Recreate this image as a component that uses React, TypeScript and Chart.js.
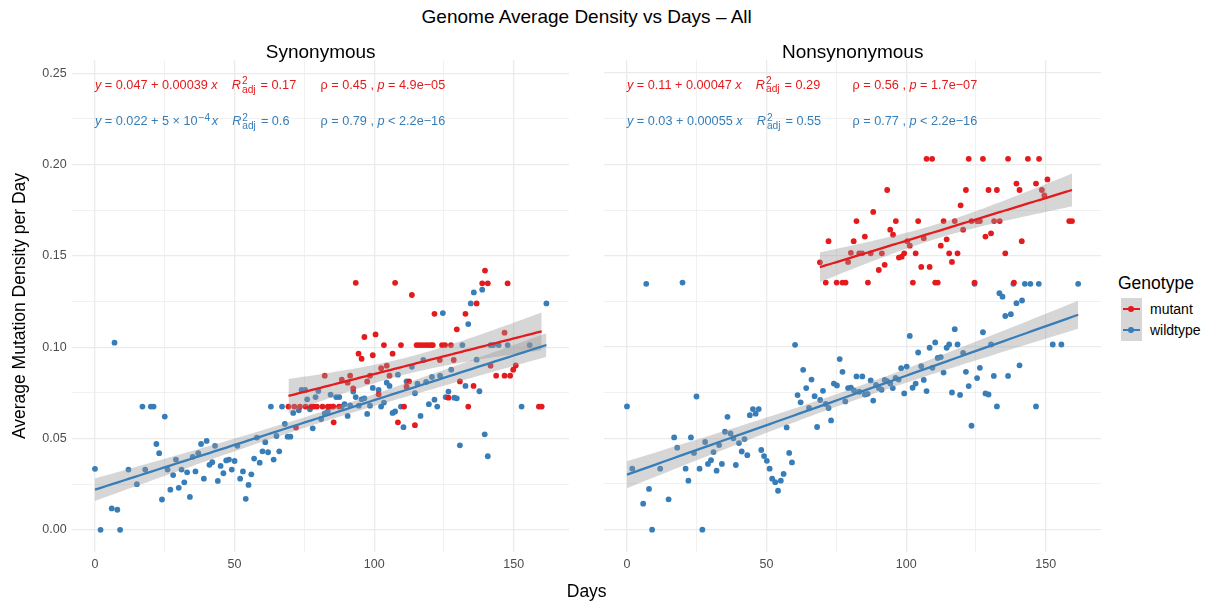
import React, { useEffect, useRef } from "react";
import { Chart, registerables } from "chart.js";

Chart.register(...registerables);

const FONT = '"Liberation Sans", Arial, Helvetica, sans-serif';
const RED = "#E41A1C";
const BLUE = "#377EB8";
const BAND = "rgba(153,153,153,0.4)";
const GRID = "#EBEBEB";
const TICK_COLOR = "#4D4D4D";
const LABEL_SIZE = 12.7;

// ---------------- data: Synonymous ----------------
const synMutantDays = [
  69.3, 71.4, 72, 73.4, 75.4, 77.4, 78.4, 79.5, 81.5, 82.3, 83.4, 84.4, 85.3, 85.5, 87.4, 88.4, 90.5, 91.4,
  92.5, 93.4, 94.4, 95.5, 96.5, 97.5, 98.5, 99.5, 100.5, 101.6, 102.5, 103.5, 104.5, 105.5, 106.6, 107.5,
  108.5, 109.6, 110.7, 111.6, 112.5, 113.5, 114.6, 115.2, 116.2, 117.2, 118.3, 119.3, 120.3, 121.0, 121.6,
  123.5, 124.3, 125.4, 126.6, 127.5, 128.5, 129.6, 130.7, 132.7, 133.7, 135.6, 136.7, 138.7, 139.7, 140.7,
  141.7, 143.7, 146.7, 146.7, 147.8, 148.7, 149.8, 150.7, 159, 160,
];
const synMutantValues = [
  0.0675, 0.0675, 0.056, 0.0675, 0.0675, 0.0675, 0.0675, 0.0675, 0.0675, 0.0844, 0.0675, 0.0675, 0.0675, 0.0589, 0.0675, 0.0822, 0.0806, 0.0844,
  0.0775, 0.1353, 0.0965, 0.0937, 0.1056, 0.0813, 0.0844, 0.0956, 0.107, 0.0742, 0.0885, 0.1012, 0.0899, 0.0844, 0.0965, 0.1353,
  0.0589, 0.1012, 0.0675, 0.0784, 0.0813, 0.1286, 0.0573, 0.1012, 0.1012, 0.1012, 0.1012, 0.1012, 0.1012, 0.1012, 0.1183,
  0.093, 0.1012, 0.1012, 0.0724, 0.1012, 0.093, 0.1098, 0.0813, 0.1183, 0.0675, 0.0788, 0.124, 0.135, 0.142, 0.135,
  0.0899, 0.0844, 0.108, 0.0844, 0.135, 0.0844, 0.0877, 0.09, 0.0675, 0.0675,
];
const synWildtypeDays = [
  0, 2, 6, 7, 8, 9, 12, 15, 17, 18, 20, 21, 22, 23, 24, 25, 26, 27, 28, 29, 30, 31, 32, 33, 34, 35, 36, 37, 38, 39,
  40, 41, 42, 43, 44, 45, 46, 47, 48, 49, 50, 51, 52, 53, 54, 55, 56, 57, 58, 59, 60, 61, 62, 63, 64, 65, 66, 67,
  68, 69, 70, 71, 73, 74, 75.3, 76, 77, 78, 79, 80, 81, 82.3, 83.4, 84.4, 85.3, 86.4, 87.5, 88.4, 89.4, 90.5, 91.4,
  92.5, 93.4, 94.5, 95.5, 96.5, 97.5, 98.5, 99.5, 101.6, 102.5, 103.5, 104.5, 105.5, 106.6, 107.5, 108.5, 109.6,
  110.5, 111.6, 113.5, 114.6, 115.5, 116.6, 117.6, 118.6, 119.6, 120.7, 121.6, 122.6, 123.6, 124.6, 125.6, 126.6,
  127.6, 128.7, 129.6, 130.7, 131.6, 132.7, 133.7, 134.6, 135.7, 136.7, 137.7, 138.7, 139.6, 140.7, 141.7, 142.6,
  144.6, 147.8, 152.8, 155.7, 161.7,
];
const synWildtypeValues = [
  0.0334, 0, 0.0117, 0.1025, 0.011, 0, 0.033, 0.025, 0.0675, 0.033, 0.0675, 0.0675, 0.047, 0.042, 0.0166, 0.062, 0.033, 0.022, 0.03, 0.0385, 0.023, 0.033, 0.026, 0.0315, 0.018, 0.04, 0.032, 0.042, 0.047, 0.028,
  0.0487, 0.0356, 0.037, 0.046, 0.0268, 0.035, 0.031, 0.038, 0.0385, 0.033, 0.0377, 0.046, 0.028, 0.032, 0.017, 0.0246, 0.0304, 0.039, 0.0505, 0.0368, 0.043, 0.048, 0.0425, 0.0675, 0.0385, 0.0514, 0.043, 0.0675,
  0.058, 0.051, 0.051, 0.064, 0.0655, 0.0766, 0.0766, 0.0715, 0.066, 0.0556, 0.0727, 0.076, 0.0607, 0.0637, 0.0648, 0.074, 0.0675, 0.0727, 0.0727, 0.0675, 0.0688, 0.0624, 0.0682,
  0.0757, 0.0727, 0.068, 0.0715, 0.072, 0.0635, 0.068, 0.0777, 0.0766, 0.0675, 0.0697, 0.0806, 0.0788, 0.064, 0.0648, 0.085, 0.0675,
  0.0562, 0.0813, 0.0893, 0.0748, 0.08, 0.0624, 0.093, 0.081, 0.0688, 0.0837, 0.0713, 0.0675, 0.0844, 0.1187, 0.0727, 0.0757,
  0.0877, 0.0724, 0.072, 0.0463, 0.1012, 0.0788, 0.1127, 0.124, 0.13, 0.0932, 0.0759, 0.1315, 0.0523, 0.0403, 0.1012, 0.1012,
  0.1012, 0.1012, 0.0675, 0.1012, 0.124,
];

// ---------------- data: Nonsynonymous ----------------
const nonsynMutantDays = [
  69.1, 71.2, 72.2, 75.1, 77.2, 78.3, 79.2, 80.2, 81.2, 82.2, 83.2, 84.2, 85.2, 86.3, 87.3, 88.2, 90.2, 91.3, 92.3,
  93.2, 94.3, 95.3, 96.3, 97.4, 98.4, 99.3, 100.4, 101.3, 102.4, 103.4, 104.3, 105.4, 106.3, 107.3, 108.4, 109.3,
  110.4, 111.3, 112.4, 113.4, 114.5, 115.4, 116.4, 117.4, 118.4, 119.5, 120.4, 121.4, 122.4, 123.4, 124.5, 125.4,
  126.4, 127.5, 128.4, 129.5, 130.4, 131.5, 132.5, 133.5, 135.5, 136.5, 138.6, 139.5, 140.6, 141.4, 143.6, 146.5,
  147.6, 148.6, 149.5, 150.6, 158.4, 159.4,
];
const nonsynMutantValues = [
  0.1464, 0.1353, 0.158, 0.1353, 0.1353, 0.1353, 0.1466, 0.1516, 0.158, 0.169, 0.1513, 0.1513, 0.1605, 0.1353, 0.1513, 0.174, 0.1422, 0.1513, 0.145,
  0.186, 0.1643, 0.1615, 0.169, 0.149, 0.1495, 0.1513, 0.158, 0.1555, 0.1353, 0.1513, 0.169, 0.1439, 0.1596, 0.2031, 0.1439, 0.2031,
  0.1353, 0.1353, 0.1555, 0.169, 0.159, 0.1513, 0.1466, 0.169, 0.1513, 0.1776, 0.1643, 0.186, 0.2031, 0.169, 0.1353, 0.169,
  0.169, 0.2031, 0.1605, 0.186, 0.1623, 0.169, 0.186, 0.169, 0.1513, 0.2031, 0.1353, 0.1895, 0.186, 0.158, 0.2031, 0.1895,
  0.2031, 0.186, 0.183, 0.1918, 0.169, 0.169,
];
const nonsynWildtypeDays = [
  0, 1.9, 5.8, 6.9, 7.9, 9, 11.9, 14.9, 16.9, 18, 19.9, 21, 22, 22.9, 24, 24.9, 26, 27, 28, 29, 30.1, 31, 32.1, 33, 34,
  35.1, 36, 37.1, 38.1, 39, 40.1, 41.1, 42.1, 43.1, 44, 45.1, 46.1, 47.2, 48.1, 49.1, 50.1, 51.1, 52, 53.1, 54.1, 55.1,
  56.1, 57.2, 58.1, 59.1, 60.2, 61.1, 62.2, 63.1, 64.2, 65.2, 66.1, 67.2, 68.1, 69.2, 70.2, 71.2, 72.2, 73.1, 74.1,
  75.2, 76.2, 77.2, 78.2, 79.2, 80.2, 81.3, 82.2, 83.2, 84.3, 85.2, 86.2, 87.3, 88.2, 89.2, 90.2, 91.2, 92.3, 93.2,
  94.3, 95.2, 96.2, 97.3, 98.2, 99.3, 100.2, 101.3, 102.3, 103.4, 104.3, 105.4, 106.3, 107.3, 108.4, 109.4, 110.4,
  111.3, 112.4, 113.4, 114.5, 115.4, 116.4, 117.4, 118.4, 119.3, 120.4, 121.4, 122.4, 123.4, 124.5, 125.4, 126.4,
  127.5, 128.4, 129.5, 130.4, 131.4, 132.5, 133.4, 134.5, 135.5, 136.5, 137.5, 138.4, 139.5, 140.6, 141.5, 142.5,
  144.5, 146.5, 147.5, 152.5, 155.6, 161.6,
];
const nonsynWildtypeValues = [
  0.0675, 0.0334, 0.0142, 0.1346, 0.0223, 0, 0.0334, 0.0166, 0.0505, 0.0449, 0.1353, 0.0334, 0.0268, 0.0505, 0.042, 0.0729, 0.0334, 0, 0.048, 0.036, 0.038, 0.0425, 0.0323, 0.0463, 0.036,
  0.0536, 0.0618, 0.0527, 0.05, 0.0354, 0.0474, 0.0428, 0.0496, 0.0408, 0.0627, 0.066, 0.0635, 0.066, 0.0436, 0.0403, 0.0377, 0.0334, 0.0279, 0.026, 0.0213, 0.0268,
  0.0305, 0.056, 0.042, 0.0368, 0.1012, 0.0737, 0.0697, 0.0875, 0.0775, 0.0666, 0.0822, 0.0731, 0.0562, 0.071, 0.076, 0.0688, 0.0666, 0.0598, 0.08,
  0.079, 0.0934, 0.0864, 0.0702, 0.0775, 0.0777, 0.0762, 0.0839, 0.0755, 0.0839, 0.074, 0.0744, 0.0817, 0.0707, 0.0793, 0.0775, 0.0766, 0.082, 0.0813,
  0.08, 0.0775, 0.0831, 0.0822, 0.0884, 0.0746, 0.0893, 0.1061, 0.0777, 0.08, 0.097, 0.0895, 0.082, 0.0759, 0.0996, 0.0886, 0.1025,
  0.094, 0.0945, 0.086, 0.0996, 0.1014, 0.0751, 0.1098, 0.1014, 0.0738, 0.0968, 0.0864, 0.0786, 0.0569, 0.1346, 0.083, 0.0886,
  0.1081, 0.0746, 0.074, 0.1014, 0.0842, 0.0675, 0.1295, 0.1276, 0.117, 0.0842, 0.118, 0.1346, 0.124, 0.09, 0.1255, 0.1346,
  0.1346, 0.0675, 0.1346, 0.1014, 0.1014, 0.1346,
];

// ---------------- fitted lines (intercept, slope) ----------------
const fitSynMutant = [0.0463, 0.00039];
const fitSynWildtype = [0.022, 0.00049];
const fitNonsynMutant = [0.1114, 0.000468];
const fitNonsynWildtype = [0.0301, 0.000542];

// ---------------- axes ----------------
const xTickValues = [0, 25, 50, 75, 100, 125, 150];
const xTickLabels = ["0", "", "50", "", "100", "", "150"];
const yTickValues = [0, 0.025, 0.05, 0.075, 0.1, 0.125, 0.15, 0.175, 0.2, 0.225, 0.25];
const yTickLabels = ["0.00", "", "0.05", "", "0.10", "", "0.15", "", "0.20", "", "0.25"];
const xLimits = [-8.085, 169.785];
const yLimits = [-0.01225, 0.2572];

// ---------------- annotation texts ----------------
type Seg = { t: string; i?: boolean; sup?: string; sub?: string };
const labelRowsY = [0.244, 0.224];
const equationX = 0;
const rhoX = 80.8;

const synMutantEquation: Seg[] = [
  { t: "y", i: true }, { t: " = 0.047 + 0.00039 " }, { t: "x", i: true }, { t: "    " },
  { t: "R", i: true, sup: "2", sub: "adj" }, { t: " = 0.17" },
];
const synMutantRho: Seg[] = [{ t: "ρ = 0.45 , " }, { t: "p", i: true }, { t: " = 4.9e−05" }];
const synWildtypeEquation: Seg[] = [
  { t: "y", i: true }, { t: " = 0.022 + 5 × " }, { t: "10", sup: "−4" }, { t: "" }, { t: "x", i: true }, { t: "    " },
  { t: "R", i: true, sup: "2", sub: "adj" }, { t: " = 0.6" },
];
const synWildtypeRho: Seg[] = [{ t: "ρ = 0.79 , " }, { t: "p", i: true }, { t: " < 2.2e−16" }];
const nonsynMutantEquation: Seg[] = [
  { t: "y", i: true }, { t: " = 0.11 + 0.00047 " }, { t: "x", i: true }, { t: "    " },
  { t: "R", i: true, sup: "2", sub: "adj" }, { t: " = 0.29" },
];
const nonsynMutantRho: Seg[] = [{ t: "ρ = 0.56 , " }, { t: "p", i: true }, { t: " = 1.7e−07" }];
const nonsynWildtypeEquation: Seg[] = [
  { t: "y", i: true }, { t: " = 0.03 + 0.00055 " }, { t: "x", i: true }, { t: "    " },
  { t: "R", i: true, sup: "2", sub: "adj" }, { t: " = 0.55" },
];
const nonsynWildtypeRho: Seg[] = [{ t: "ρ = 0.77 , " }, { t: "p", i: true }, { t: " < 2.2e−16" }];

// ---------------- helpers ----------------
function toPoints(days: number[], vals: number[]) {
  return days.map((d, i) => ({ x: d, y: vals[i] }));
}

function smooth(days: number[], vals: number[], fit: number[]) {
  const [a, b] = fit;
  const n = days.length;
  const xbar = days.reduce((s, d) => s + d, 0) / n;
  let sxx = 0;
  let sse = 0;
  days.forEach((d, i) => {
    sxx += (d - xbar) ** 2;
    const r = vals[i] - (a + b * d);
    sse += r * r;
  });
  const s = Math.sqrt(sse / (n - 2));
  const t = 1.96 + 2.4 / (n - 2);
  const lo = Math.min(...days);
  const hi = Math.max(...days);
  const upper: any[] = [];
  const lower: any[] = [];
  const line: any[] = [];
  const N = 80;
  for (let k = 0; k < N; k++) {
    const x = lo + ((hi - lo) * k) / (N - 1);
    const y = a + b * x;
    const se = s * Math.sqrt(1 / n + (x - xbar) ** 2 / sxx);
    upper.push({ x, y: y + t * se });
    lower.push({ x, y: y - t * se });
    line.push({ x, y });
  }
  return { upper, lower, line };
}

function fontStr(size: number, italic?: boolean) {
  return `${italic ? "italic " : ""}${size}px ${FONT}`;
}

function drawRich(ctx: CanvasRenderingContext2D, segs: Seg[], x: number, baseline: number, size: number, color: string) {
  let cx = x;
  ctx.fillStyle = color;
  ctx.textAlign = "left";
  ctx.textBaseline = "alphabetic";
  for (const s of segs) {
    ctx.font = fontStr(size, s.i);
    ctx.fillText(s.t, cx, baseline);
    cx += ctx.measureText(s.t).width;
    if (s.sup || s.sub) {
      const ss = size * 0.8;
      ctx.font = fontStr(ss);
      let w = 0;
      if (s.sup) {
        ctx.fillText(s.sup, cx + 1, baseline - size * 0.36);
        w = Math.max(w, ctx.measureText(s.sup).width);
      }
      if (s.sub) {
        ctx.fillText(s.sub, cx + 1, baseline + size * 0.3);
        w = Math.max(w, ctx.measureText(s.sub).width);
      }
      cx += w + 2.5;
    }
  }
}

function labelPlugin(items: { segs: Seg[]; x: number; y: number; color: string }[]) {
  return {
    id: "richLabels",
    afterDatasetsDraw(chart: any) {
      const ctx = chart.ctx as CanvasRenderingContext2D;
      const xs = chart.scales.x;
      const ys = chart.scales.y;
      ctx.save();
      for (const it of items) {
        const px = xs.getPixelForValue(it.x);
        const py = ys.getPixelForValue(it.y);
        drawRich(ctx, it.segs, px, py + 0.36 * LABEL_SIZE, LABEL_SIZE, it.color);
      }
      ctx.restore();
    },
  };
}

type Series = { days: number[]; values: number[]; fit: number[]; color: string; eq: Seg[]; rho: Seg[] };

// target plot area on the page
const AREA_TOP = 60;
const AREA_BOTTOM = 552;
const CANVAS_H = 560;

function Panel(props: { areaLeft: number; width: number; yAxisWidth: number; showY: boolean; mutant: Series; wildtype: Series }) {
  const ref = useRef<HTMLCanvasElement>(null);
  const { areaLeft, width, yAxisWidth, showY, mutant, wildtype } = props;
  useEffect(() => {
    const canvas = ref.current as HTMLCanvasElement;
    let xAxisHeight = 33;
    const sm = smooth(mutant.days, mutant.values, mutant.fit);
    const sw = smooth(wildtype.days, wildtype.values, wildtype.fit);
    const pointDs = (s: Series, order: number) => ({
      data: toPoints(s.days, s.values),
      showLine: false,
      pointRadius: 2.9,
      pointHoverRadius: 2.9,
      pointBorderWidth: 0,
      pointBackgroundColor: s.color,
      pointBorderColor: s.color,
      borderColor: s.color,
      order,
    });
    const bandDs = (pts: any[], fill: any, order: number) => ({
      data: pts,
      showLine: true,
      borderWidth: 0,
      borderColor: "rgba(0,0,0,0)",
      backgroundColor: BAND,
      pointRadius: 0,
      fill,
      tension: 0,
      order,
    });
    const lineDs = (pts: any[], color: string, order: number) => ({
      data: pts,
      showLine: true,
      borderWidth: 2.3,
      borderColor: color,
      pointRadius: 0,
      fill: false,
      tension: 0,
      order,
    });
    const chart = new Chart(canvas, {
      type: "line",
      data: {
        datasets: [
          pointDs(wildtype, 6),
          pointDs(mutant, 5),
          bandDs(sm.upper, "+1", 4),
          bandDs(sm.lower, false, 4),
          lineDs(sm.line, mutant.color, 3),
          bandDs(sw.upper, "+1", 2),
          bandDs(sw.lower, false, 2),
          lineDs(sw.line, wildtype.color, 1),
        ] as any,
      },
      options: {
        animation: false,
        responsive: false,
        maintainAspectRatio: false,
        events: [],
        layout: { padding: 0, autoPadding: false },
        plugins: { legend: { display: false }, tooltip: { enabled: false } },
        scales: {
          x: {
            type: "linear",
            min: xLimits[0],
            max: xLimits[1],
            afterBuildTicks: (s: any) => {
              s.ticks = xTickValues.map((v) => ({ value: v }));
            },
            afterFit: (s: any) => {
              s.height = xAxisHeight;
            },
            ticks: {
              autoSkip: false,
              maxRotation: 0,
              padding: 5,
              color: TICK_COLOR,
              font: { family: FONT, size: 12.5 },
              callback: (_v: any, i: number) => xTickLabels[i],
            },
            grid: {
              color: GRID,
              lineWidth: (c: any) => (c.index % 2 === 0 ? 1.3 : 0.7),
              drawTicks: false,
            },
            border: { display: false },
          },
          y: {
            type: "linear",
            min: yLimits[0],
            max: yLimits[1],
            afterBuildTicks: (s: any) => {
              s.ticks = yTickValues.map((v) => ({ value: v }));
            },
            afterFit: (s: any) => {
              s.width = yAxisWidth;
            },
            ticks: {
              display: showY,
              autoSkip: false,
              padding: 5.7,
              color: TICK_COLOR,
              font: { family: FONT, size: 12.5 },
              callback: (_v: any, i: number) => yTickLabels[i],
            },
            grid: {
              color: GRID,
              lineWidth: (c: any) => (c.index % 2 === 0 ? 1.3 : 0.7),
              drawTicks: false,
            },
            border: { display: false },
          },
        },
      } as any,
      plugins: [
        labelPlugin([
          { segs: mutant.eq, x: equationX, y: labelRowsY[0], color: mutant.color },
          { segs: mutant.rho, x: rhoX, y: labelRowsY[0], color: mutant.color },
          { segs: wildtype.eq, x: equationX, y: labelRowsY[1], color: wildtype.color },
          { segs: wildtype.rho, x: rhoX, y: labelRowsY[1], color: wildtype.color },
        ]),
      ],
    });
    // fit the plotting area exactly onto the target rectangle
    for (let k = 0; k < 3; k++) {
      const ca = chart.chartArea;
      const want = AREA_BOTTOM - AREA_TOP;
      const diff = ca.bottom - ca.top - want;
      if (Math.abs(diff) < 0.05) break;
      xAxisHeight += diff;
      chart.update();
    }
    const ca = chart.chartArea;
    canvas.style.top = `${AREA_TOP - ca.top}px`;
    canvas.style.left = `${areaLeft - ca.left}px`;
    return () => chart.destroy();
  }, []);
  return <canvas ref={ref} width={width} height={CANVAS_H} style={{ position: "absolute", left: 0, top: 0 }} />;
}

const textBase: React.CSSProperties = { position: "absolute", fontFamily: FONT, lineHeight: 1, whiteSpace: "nowrap", color: "#000" };

export default function App() {
  useEffect(() => {
    document.body.style.margin = "0";
  }, []);
  return (
    <div style={{ position: "relative", width: 1211, height: 605, background: "#fff", overflow: "hidden" }}>
      <Panel
        areaLeft={72.4}
        width={569}
        yAxisWidth={72.4}
        showY={true}
        mutant={{ days: synMutantDays, values: synMutantValues, fit: fitSynMutant, color: RED, eq: synMutantEquation, rho: synMutantRho }}
        wildtype={{ days: synWildtypeDays, values: synWildtypeValues, fit: fitSynWildtype, color: BLUE, eq: synWildtypeEquation, rho: synWildtypeRho }}
      />
      <Panel
        areaLeft={604.4}
        width={497}
        yAxisWidth={0.4}
        showY={false}
        mutant={{ days: nonsynMutantDays, values: nonsynMutantValues, fit: fitNonsynMutant, color: RED, eq: nonsynMutantEquation, rho: nonsynMutantRho }}
        wildtype={{ days: nonsynWildtypeDays, values: nonsynWildtypeValues, fit: fitNonsynWildtype, color: BLUE, eq: nonsynWildtypeEquation, rho: nonsynWildtypeRho }}
      />
      <div style={{ ...textBase, left: 0, width: 1173.4, textAlign: "center", top: 7.2, fontSize: 19 }}>
        Genome Average Density vs Days – All
      </div>
      <div style={{ ...textBase, left: 72.4 - 100, width: 696.6, textAlign: "center", top: 42, fontSize: 19 }}>
        Synonymous
      </div>
      <div style={{ ...textBase, left: 604.4 - 100, width: 696.6, textAlign: "center", top: 42, fontSize: 19 }}>
        Nonsynonymous
      </div>
      <div style={{ ...textBase, left: 0, width: 1173.4, textAlign: "center", top: 583.2, fontSize: 17.5 }}>Days</div>
      <div
        style={{
          ...textBase,
          left: 19 - 200,
          top: 306 - 10,
          width: 400,
          height: 20,
          lineHeight: "20px",
          textAlign: "center",
          fontSize: 17.5,
          transform: "rotate(-90deg)",
        }}
      >
        Average Mutation Density per Day
      </div>
      {/* legend */}
      <div style={{ ...textBase, left: 1118, top: 274.5, fontSize: 17.5 }}>Genotype</div>
      <div style={{ position: "absolute", left: 1121, top: 298.3, width: 20.7, height: 42.7, background: "#D6D6D6" }} />
      {[
        { c: RED, y: 309, label: "mutant" },
        { c: BLUE, y: 330.3, label: "wildtype" },
      ].map((k) => (
        <React.Fragment key={k.label}>
          <div style={{ position: "absolute", left: 1122.7, top: k.y - 1.15, width: 17.3, height: 2.3, background: k.c }} />
          <div style={{ position: "absolute", left: 1131.3 - 2.9, top: k.y - 2.9, width: 5.8, height: 5.8, borderRadius: "50%", background: k.c }} />
          <div style={{ ...textBase, left: 1150, top: k.y + 4.4 - 11.85, fontSize: 14 }}>{k.label}</div>
        </React.Fragment>
      ))}
    </div>
  );
}
